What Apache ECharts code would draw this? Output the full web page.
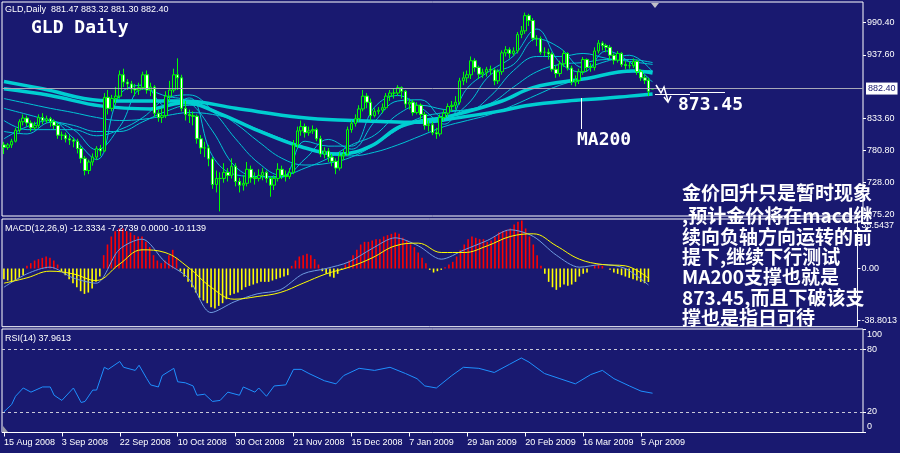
<!DOCTYPE html>
<html><head><meta charset="utf-8">
<script src="https://cdn.jsdelivr.net/npm/echarts@6/dist/echarts.min.js"></script>
<style>html,body{margin:0;padding:0;background:#191970;}#c{width:900px;height:453px;}</style>
</head><body><div id="c"></div>
<script>
// ---------------- DATA ----------------
const symbol = 'GLD', period = 'Daily';
// [open, close, low, high] per daily bar
const ohlc = [
[790,786,775,795],[786,790,782,793],[790,796,785,800],[796,814,794,818],[814,828,810,832],[828,834,822,840],
[834,826,820,838],[826,818,812,830],[818,822,814,828],[822,835,818,840],[835,830,824,842],[830,833,826,838],
[833,828,820,836],[828,822,816,832],[822,806,800,826],[806,806,798,812],[806,800,794,810],[800,798,790,806],
[798,796,786,802],[796,784,776,800],[784,768,760,788],[768,748,740,772],[748,762,742,766],[762,770,756,776],
[770,784,765,788],[784,780,772,790],[780,868,778,875],[868,850,840,880],[850,866,845,872],[866,870,858,885],
[870,905,866,912],[905,893,885,915],[893,890,880,898],[890,882,875,895],[882,880,870,890],[880,884,872,892],
[884,905,880,910],[905,880,874,912],[880,885,870,892],[885,842,836,888],[842,835,828,848],[835,838,826,850],
[838,870,834,878],[870,880,862,895],[880,905,876,915],[905,900,880,932],[900,850,845,905],[850,840,830,862],
[840,838,826,848],[838,837,822,845],[837,800,792,840],[800,785,775,806],[785,785,770,795],[785,767,755,790],
[767,725,718,770],[725,735,712,748],[735,735,681,745],[735,745,728,760],[745,740,730,752],[740,755,735,768],
[755,730,722,760],[730,724,712,736],[724,727,715,740],[727,750,722,762],[750,736,728,756],[736,735,725,745],
[735,740,730,750],[740,745,732,752],[745,735,728,748],[735,724,705,738],[724,735,716,740],[735,750,730,760],
[750,740,734,756],[740,738,730,748],[738,745,734,752],[745,790,742,798],[790,813,785,820],[813,820,805,830],
[820,810,802,825],[810,813,805,820],[813,815,808,822],[815,800,796,818],[800,775,770,805],[775,780,768,786],
[780,770,762,785],[770,763,755,775],[763,752,742,768],[752,772,748,778],[772,775,765,782],[775,815,772,820],
[815,825,810,830],[825,833,820,840],[833,849,828,855],[849,870,845,880],[870,860,850,875],[860,838,830,866],
[838,845,835,850],[845,847,840,852],[847,851,842,858],[851,870,848,875],[870,875,862,880],[875,875,866,882],
[875,884,870,888],[884,878,866,886],[878,857,850,880],[857,860,848,866],[860,843,838,864],[843,855,840,860],
[855,840,832,858],[840,822,815,844],[822,823,812,830],[823,810,806,828],[810,808,800,818],[808,835,804,840],
[835,842,830,848],[842,853,836,858],[853,855,845,862],[855,860,848,870],[860,895,856,900],[895,900,888,910],
[900,905,892,912],[905,928,898,935],[928,917,910,932],[917,906,898,920],[906,909,900,915],[909,914,902,918],
[914,913,905,920],[913,895,888,916],[895,910,890,914],[910,941,905,945],[941,946,935,952],[946,940,932,950],
[940,944,936,950],[944,971,940,975],[971,977,965,985],[977,1002,972,1007],[1002,994,985,1005],[994,965,960,998],
[965,964,952,970],[964,942,938,968],[942,942,935,950],[942,939,930,948],[939,914,910,942],[914,907,900,920],
[907,923,902,928],[923,940,918,945],[940,916,912,942],[916,893,888,920],[893,896,886,904],[896,910,890,915],
[910,930,905,934],[930,917,910,932],[917,917,910,924],[917,944,912,950],[944,957,940,962],[957,953,945,960],
[953,950,942,956],[950,937,930,954],[937,929,922,940],[929,940,925,944],[940,922,918,942],[922,920,914,928],
[920,920,915,926],[920,927,916,932],[927,910,905,930],[910,900,895,914],[900,896,890,905],[896,878,870,900],
[881.47,882.40,881.30,883.32]
];
const slotCount = 223;                 // bar slots on the time axis (incl. empty right margin)
const tickIdx = [0,15,30,45,60,75,90,105,120,135,150,165];
const tickLabels = ['15 Aug 2008','3 Sep 2008','22 Sep 2008','10 Oct 2008','30 Oct 2008','21 Nov 2008',
  '15 Dec 2008','7 Jan 2009','29 Jan 2009','20 Feb 2009','16 Mar 2009','5 Apr 2009'];

// moving-average ribbon, read at every 6th bar
const maIdx = [0,6,12,18,24,30,36,42,48,54,60,66,72,78,84,90,96,102,108,114,120,126,132,138,144,150,156,162,168];
const ma1 = [800,820,830,801,766,872,888,854,867,772,741,738,737,796,788,788,852,871,851,824,883,912,936,980,925,909,944,926,893];
const ma2 = [812,808,827,815,782,820,882,870,860,813,754,738,738,767,799,783,828,862,864,834,856,905,922,964,949,917,927,937,910];
const ma3 = [830,815,815,815,805,815,835,866,872,846,800,760,740,752,768,790,806,840,855,848,846,870,912,935,935,940,932,927,922];
const ma4 = [850,840,830,822,812,812,828,845,855,848,825,795,768,757,760,770,790,815,835,843,848,858,885,910,922,925,930,930,925];
const ma5 = [866,858,850,843,835,830,832,838,843,840,830,815,800,785,775,772,778,790,805,820,830,840,855,872,888,898,905,910,912];
// thick medium MA
const maMidIdx = [0,12,25,38,44,47,56,66,77,87,95,103,116,129,137,150,163,168];
const maMid = [882,871,854,849,857,859,841,813,787,775,788,821,838,862,884,898,911,908];
// MA200
const ma200Idx = [0,10,25,35,47,60,77,90,100,108,118,128,136,146,155,162,168];
const ma200 = [894,882,863,862,862,850,835,830,828,827,835,845,855,862,866,870,873.45];
const ma200Label = 'MA200', ma200Target = '873.45';

// MACD(12,26,9)
const macdHist = [
-8,-9,-10,-9,-7,-5, 2,4,6,7,8,9, 8,6,3,-2,-5,-8, -11,-14,-17,-19,-18,-15,
-10,-6,10,18,24,28, 30,30,28,27,25,24, 24,20,16,10,6,4, 6,10,14,8,-2,-6,
-10,-14,-18,-22,-24,-26, -29,-30,-28,-26,-23,-20, -19,-18,-16,-14,-13,-12, -11,-10,-10,-10,-9,-8,
-7,-6,-5,2,6,9, 10,11,10,7,3,-2, -4,-6,-7,-4,-1,3, 6,10,14,18,20,20,
21,22,22,24,25,26, 27,26,23,21,18,16, 12,8,4,-1,-3,-2, -1,1,3,5,9,14,
18,22,24,23,22,22, 20,21,24,27,28,29, 30,33,35,36,30,24, 18,10,2,-4,-10,-14,
-16,-14,-12,-13,-12,-10, -6,-4,-3,0,2,3, 2,0,-1,-3,-4,-5, -6,-7,-8,-9,-10,-11, -10.1139];
const macdMain = [-14,-4,1,-7,-11,14,22,5,-7,-33,-25,-19,-16,-4,0,5,15,23,17,7,14,21,29,24,10,1,3,0,-12.3334];
const macdSignal = [-11,-7,-2,-4,-9,3,14,12,1,-14,-23,-21,-18,-11,-4,1,8,17,19,12,12,17,24,26,17,7,3,2,-7.2739];
const macdTicks = [-38.8013, 0, 35.5437];
const macdTickText = ['-38.8013', '0.00', '35.5437'];
const macdTitle = 'MACD(12,26,9) -12.3334 -7.2739 0.0000 -10.1139';

// RSI(14)
const rsiIdx = [0,2,3,5,7,10,12,13,15,18,20,21,23,24,26,27,30,31,34,35,37,38,40,41,44,45,47,49,50,52,54,56,58,61,62,65,66,68,70,73,
  75,77,79,83,86,88,92,96,100,104,107,109,112,116,119,123,127,131,134,136,140,144,148,152,155,158,162,165,168];
const rsiVal = [20,27,35,43,39,44,44,36,31,43,29,30,41,41,63,61,68.6,63,60,65,52,46,44,55,62,49,48,45,36,37,30,31,39,36,44,39,43,35,45,46,
  61,61,57,50,47,55,62,60,63,57,52,45,43,55,63,62,58,66,72,68,57,52,47,56,60,52,45,40,37.96];
const rsiLevels = [20, 80];
const rsiTicks = [0, 20, 80, 100];
const rsiTitle = 'RSI(14) 37.9613';

const priceTicks = [675.20, 728.00, 780.80, 833.60, 937.60, 990.40];

const noteLines = ['金价回升只是暂时现象', ',预计金价将在macd继', '续向负轴方向运转的前',
  '提下,继续下行测试', 'MA200支撑也就是', '873.45,而且下破该支', '撑也是指日可待'];

// ---------------- CHART ----------------
const BG = '#191970', WHITE = '#ffffff', CYAN = '#00ced1';
const categories = Array.from({length: slotCount}, (_, i) => String(i));
const pairs = (idx, vals) => idx.map((d, k) => [d, vals[k]]);
const last = ohlc[ohlc.length - 1];
const lastClose = last[1];
const header = `${symbol},${period}  ${last[0].toFixed(2)} ${last[3].toFixed(2)} ${last[2].toFixed(2)} ${last[1].toFixed(2)}`;

const G = [
  {left: 2, top: 2, width: 861, height: 214},
  {left: 2, top: 219, width: 861, height: 107.7},
  {left: 2, top: 329, width: 861, height: 103.5}
];
const smallFont = {color: WHITE, fontSize: 9, fontFamily: 'Liberation Sans'};

const xAxes = G.map((g, gi) => ({
  type: 'category', gridIndex: gi, data: categories, boundaryGap: true,
  axisLine: {show: false}, splitLine: {show: false},
  axisTick: gi === 2 ? {show: true, alignWithLabel: true, length: 4, interval: (i) => tickIdx.includes(i),
    lineStyle: {color: WHITE}} : {show: false},
  axisLabel: gi === 2 ? Object.assign({show: true, interval: (i) => tickIdx.includes(i), align: 'left', margin: 6,
    formatter: (v, i) => tickLabels[tickIdx.indexOf(i)] || ''}, smallFont) : {show: false}
}));

const yAxes = [
  {gridIndex: 0, position: 'right', min: 673.4, max: 1024.35, scale: true,
   axisLine: {show: false}, splitLine: {show: false},
   axisTick: {show: true, customValues: priceTicks, length: 3, lineStyle: {color: WHITE}},
   axisLabel: Object.assign({customValues: priceTicks, margin: 4, formatter: (v) => v.toFixed(2)}, smallFont)},
  {gridIndex: 1, position: 'right', min: -43.6, max: 37.1,
   axisLine: {show: false}, splitLine: {show: false},
   axisTick: {show: true, customValues: macdTicks, length: 3, lineStyle: {color: WHITE}},
   axisLabel: Object.assign({customValues: macdTicks, margin: 4,
     formatter: (v) => { const k = macdTicks.findIndex(t => Math.abs(t - v) < 1e-6);
       const s = macdTickText[k] || ''; return k === macdTicks.length - 1 ? '{hi|' + s + '}' : s; },
     rich: {hi: {padding: [8, 0, 0, 0], color: WHITE, fontSize: 9, fontFamily: 'Liberation Sans'}}}, smallFont)},
  {gridIndex: 2, position: 'right', min: 0, max: 100,
   axisLine: {show: false}, splitLine: {show: false},
   axisTick: {show: true, customValues: rsiTicks, length: 3, lineStyle: {color: WHITE}},
   axisLabel: Object.assign({customValues: rsiTicks, margin: 4,
     formatter: (v) => v === 100 ? '{hi|100}' : (v === 0 ? '{lo|0}' : String(v)),
     rich: {hi: {padding: [12, 0, 0, 0], color: WHITE, fontSize: 9, fontFamily: 'Liberation Sans'},
            lo: {padding: [0, 0, 12, 0], color: WHITE, fontSize: 9, fontFamily: 'Liberation Sans'}}}, smallFont)}
];

const thin = (data) => ({type: 'line', xAxisIndex: 0, yAxisIndex: 0, data, showSymbol: false, smooth: 0.4,
  lineStyle: {color: '#00c4d4', width: 1}, silent: true, z: 2});
const thick = (data) => ({type: 'line', xAxisIndex: 0, yAxisIndex: 0, data, showSymbol: false, smooth: 0.4,
  lineStyle: {color: CYAN, width: 3.5}, silent: true, z: 3});

const series = [
  thin(pairs(maIdx, ma5)), thin(pairs(maIdx, ma4)), thin(pairs(maIdx, ma3)), thin(pairs(maIdx, ma2)), thin(pairs(maIdx, ma1)),
  thick(pairs(maMidIdx, maMid)), thick(pairs(ma200Idx, ma200)),
  {type: 'candlestick', xAxisIndex: 0, yAxisIndex: 0, data: ohlc, barWidth: 3, z: 4, silent: true,
   itemStyle: {color: BG, color0: WHITE, borderColor: '#00ff00', borderColor0: '#00ff00', borderWidth: 1},
   markLine: {symbol: 'none', silent: true, animation: false,
     lineStyle: {color: '#a8a8b8', width: 1, type: 'solid'},
     label: {show: true, position: 'end', distance: 3, formatter: lastClose.toFixed(2),
       backgroundColor: WHITE, color: BG, fontSize: 9, fontFamily: 'Liberation Sans', padding: [2, 2, 1, 2]},
     data: [{yAxis: lastClose}]}},
  {type: 'bar', xAxisIndex: 1, yAxisIndex: 1, barWidth: 1.6, silent: true,
   data: macdHist.map(v => ({value: v, itemStyle: {color: v >= 0 ? '#ff0000' : '#ffff00'}}))},
  {type: 'line', xAxisIndex: 1, yAxisIndex: 1, data: pairs(maIdx, macdMain), showSymbol: false, smooth: 0.3,
   lineStyle: {color: '#6f9be0', width: 1}, silent: true},
  {type: 'line', xAxisIndex: 1, yAxisIndex: 1, data: pairs(maIdx, macdSignal), showSymbol: false, smooth: 0.4,
   lineStyle: {color: '#ffff00', width: 1}, silent: true},
  {type: 'line', xAxisIndex: 2, yAxisIndex: 2, data: pairs(rsiIdx, rsiVal), showSymbol: false,
   lineStyle: {color: '#1e90ff', width: 1}, silent: true,
   markLine: {symbol: 'none', silent: true, animation: false, label: {show: false},
     lineStyle: {color: '#c8c8d8', width: 1, type: [3, 3]},
     data: rsiLevels.map(v => ({yAxis: v}))}}
];

const txt = (text, x, y, font, extra) => Object.assign({type: 'text', x, y, z: 100,
  style: {text, fill: WHITE, font, verticalAlign: 'middle', align: 'left'}}, extra || {});
const noteY = [193, 216, 237, 257, 277, 298, 318];
const graphic = [
  txt(header, 5, 10, '9px "Liberation Sans"'),
  txt(symbol + ' ' + period, 31, 28, 'bold 18px "DejaVu Sans Mono"'),
  txt(macdTitle, 5, 229, '9px "Liberation Sans"'),
  txt(rsiTitle, 5, 339, '9px "Liberation Sans"'),
  {type: 'line', z: 100, shape: {x1: 581.5, y1: 98, x2: 581.5, y2: 129}, style: {stroke: WHITE, lineWidth: 1}},
  txt(ma200Label, 577, 140, 'bold 18px "DejaVu Sans Mono"'),
  txt(ma200Target, 678, 105, 'bold 18px "DejaVu Sans Mono"'),
  {type: 'line', z: 100, shape: {x1: 655, y1: 94.5, x2: 690, y2: 94.5}, style: {stroke: WHITE, lineWidth: 1}},
  {type: 'line', z: 100, shape: {x1: 690, y1: 92.5, x2: 725, y2: 92.5}, style: {stroke: WHITE, lineWidth: 1}},
  {type: 'polyline', z: 100, shape: {points: [[656, 85], [661, 93], [664, 87], [668, 101]]}, style: {stroke: WHITE, fill: null, lineWidth: 1.5}},
  {type: 'polyline', z: 100, shape: {points: [[664, 97], [668, 102], [671, 96]]}, style: {stroke: WHITE, fill: null, lineWidth: 1.5}},
  {type: 'polygon', z: 100, shape: {points: [[651, 3], [659, 3], [655, 8]]}, style: {fill: '#c0c0c8'}},
  {type: 'polygon', z: 100, shape: {points: [[3, 426], [3, 432], [8, 432]]}, style: {fill: '#9a9aa8'}}
].concat(noteLines.map((s, k) => txt(s, 682, noteY[k], 'bold 19px "Noto Sans CJK SC"')));

const chart = echarts.init(document.getElementById('c'), null, {renderer: 'canvas'});
chart.setOption({
  backgroundColor: BG, animation: false,
  grid: G.map(g => Object.assign({show: true, borderColor: WHITE, borderWidth: 1, backgroundColor: 'transparent'}, g)),
  xAxis: xAxes, yAxis: yAxes, series, graphic
});
</script></body></html>
